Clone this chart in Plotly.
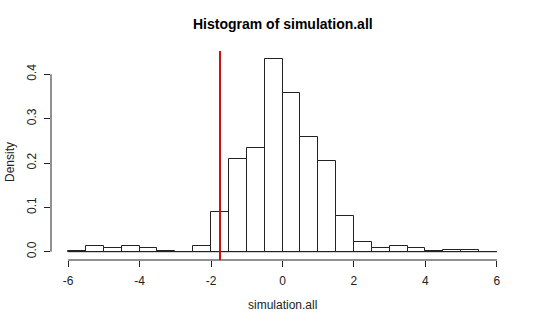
import plotly.graph_objects as go

bin_left = [-6.0, -5.5, -5.0, -4.5, -4.0, -3.5, -3.0, -2.5, -2.0, -1.5, -1.0, -0.5,
            0.0, 0.5, 1.0, 1.5, 2.0, 2.5, 3.0, 3.5, 4.0, 4.5, 5.0, 5.5]
density = [0.002, 0.012, 0.0075, 0.012, 0.0075, 0.002, 0.0, 0.012, 0.090, 0.209, 0.233, 0.435,
           0.357, 0.258, 0.205, 0.081, 0.023, 0.0075, 0.014, 0.008, 0.002, 0.004, 0.004, 0.0]
bin_width = 0.5
observed = -1.75
x_ticks = [-6, -4, -2, 0, 2, 4, 6]
x_labels = ["-6", "-4", "-2", "0", "2", "4", "6"]
y_ticks = [0.0, 0.1, 0.2, 0.3, 0.4]
y_labels = ["0.0", "0.1", "0.2", "0.3", "0.4"]

FONT = "Liberation Sans, Arial, sans-serif"
fig = go.Figure()
fig.add_trace(go.Bar(
    x=[b + bin_width / 2 for b in bin_left], y=density, width=bin_width,
    marker=dict(color="white", line=dict(color="#222222", width=1)),
    hoverinfo="skip"))

# baseline across all bins (zero-height bins)
fig.add_shape(type="line", xref="x", yref="y", x0=bin_left[0], x1=bin_left[-1] + bin_width,
              y0=0, y1=0, line=dict(color="#222222", width=1))
# R-style axis lines spanning first to last tick
fig.add_shape(type="line", xref="x", yref="paper", x0=x_ticks[0], x1=x_ticks[-1], y0=0, y1=0,
              line=dict(color="#222222", width=1))
fig.add_shape(type="line", xref="paper", yref="y", x0=0, x1=0, y0=y_ticks[0], y1=y_ticks[-1],
              line=dict(color="#222222", width=1))
# observed value line
fig.add_shape(type="line", xref="x", yref="paper", x0=observed, x1=observed, y0=0, y1=1,
              line=dict(color="#cc1111", width=2))

fig.update_layout(
    width=540, height=324, margin=dict(l=51, r=26, t=51, b=64),
    paper_bgcolor="white", plot_bgcolor="white", showlegend=False,
    font=dict(family=FONT, size=12, color="black"),
    bargap=0,
    xaxis=dict(range=[-6.48, 6.48], tickvals=x_ticks, ticktext=x_labels, ticks="outside", ticklen=6,
               tickcolor="#222222", showline=False, showgrid=False, zeroline=False,
               ticklabelstandoff=4, tickfont=dict(size=12, color="#222222")),
    yaxis=dict(range=[-0.0187, 0.4525], tickvals=y_ticks, ticktext=y_labels, ticks="outside",
               ticklen=6, tickcolor="#222222", showline=False, showgrid=False, zeroline=False,
               ticklabelstandoff=3, tickangle=-90, tickfont=dict(size=12, color="#222222")),
    annotations=[
        dict(text="<b>Histogram of simulation.all</b>", xref="paper", yref="paper",
             x=0.5, y=(260 - 24) / 209, xanchor="center", yanchor="middle", showarrow=False,
             font=dict(size=14, color="black")),
        dict(text="simulation.all", xref="paper", yref="paper", x=0.5, y=(260 - 305) / 209,
             xanchor="center", yanchor="middle", showarrow=False, font=dict(size=12, color="#222222")),
        dict(text="Density", xref="paper", yref="paper", x=(10 - 51) / 463, y=(260 - 162) / 209,
             xanchor="center", yanchor="middle", showarrow=False, textangle=-90,
             font=dict(size=12, color="#222222")),
    ],
)
fig.write_html("out.html")
